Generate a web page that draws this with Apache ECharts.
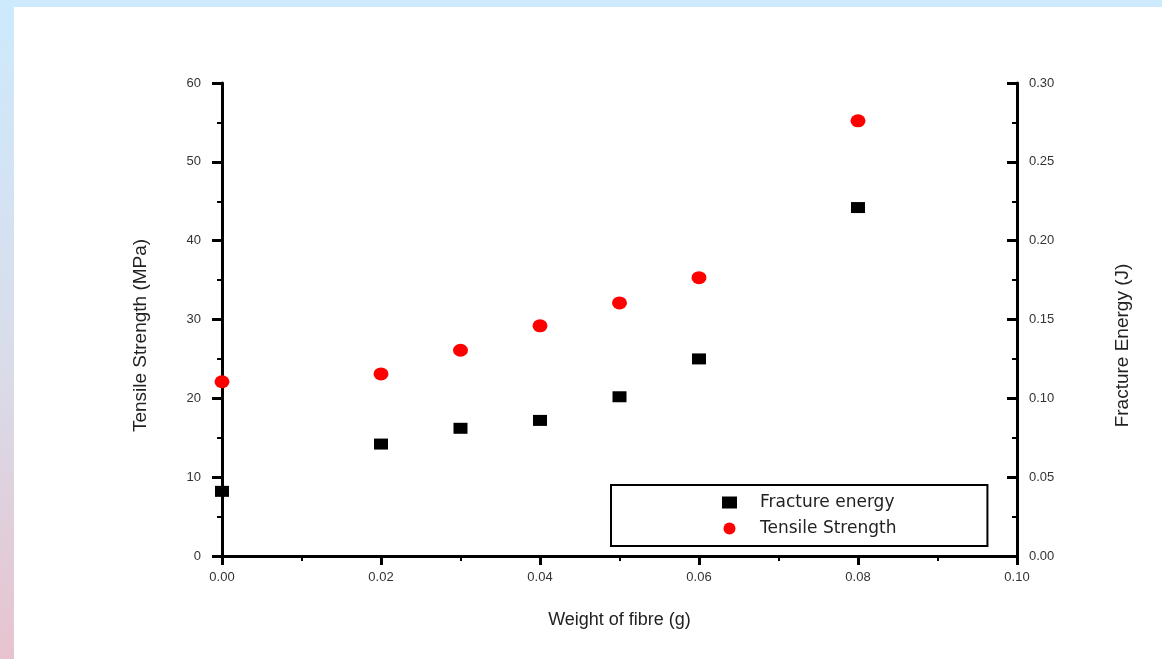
<!DOCTYPE html>
<html>
<head>
<meta charset="utf-8">
<script src="https://cdn.jsdelivr.net/npm/echarts@6/dist/echarts.min.js"></script>
<style>
  html, body { margin: 0; padding: 0; }
  body {
    width: 1162px; height: 659px; overflow: hidden;
    background: linear-gradient(180deg, #cdeafd 0%, #d9dcea 55%, #e7c3cf 100%);
  }
  #frameTop { position: absolute; left: 0; top: 0; width: 1162px; height: 7px; background: #cdeafd; }
  #chart { position: absolute; left: 14px; top: 7px; width: 1148px; height: 652px; background: #fff; }
</style>
</head>
<body>
<div id="frameTop"></div>
<div id="chart"></div>
<script>
// weight of fibre (g)
const weights = [0.00, 0.02, 0.03, 0.04, 0.05, 0.06, 0.08];
// left axis, MPa
const tensileStrength = [22.1, 23.1, 26.1, 29.2, 32.1, 35.3, 55.2];
// right axis, J
const fractureEnergy = [0.041, 0.071, 0.081, 0.086, 0.101, 0.125, 0.221];

const myChart = echarts.init(document.getElementById('chart'));

const axisLine = { show: true, lineStyle: { color: '#000', width: 3 } };
const labelStyle = { color: '#333', fontSize: 13, fontFamily: 'Liberation Sans' };
const nameStyle = { color: '#222', fontSize: 19, fontFamily: 'Liberation Sans' };

const option = {
  animation: false,
  grid: { left: 208, right: 145, top: 76, bottom: 103 },
  legend: {
    orient: 'vertical',
    left: 597,
    top: 478,
    padding: [9, 91, 9, 111],
    itemGap: 9,
    itemWidth: 15,
    itemHeight: 12,
    borderColor: '#000',
    borderWidth: 2,
    textStyle: { color: '#222', fontSize: 17, fontFamily: 'DejaVu Sans', padding: [0, 0, 0, 18] },
    data: ['Fracture energy', 'Tensile Strength']
  },
  xAxis: {
    type: 'value',
    min: 0, max: 0.1, interval: 0.02,
    name: 'Weight of fibre (g)',
    nameLocation: 'middle',
    nameGap: 55,
    nameTextStyle: { color: '#222', fontSize: 18, fontFamily: 'Liberation Sans' },
    axisLine: axisLine,
    axisTick: { inside: false, length: 9, lineStyle: { width: 3, color: '#000' } },
    minorTick: { show: true, splitNumber: 2, length: 5, lineStyle: { width: 2, color: '#000' } },
    axisLabel: Object.assign({ margin: 15, formatter: v => v.toFixed(2) }, labelStyle),
    splitLine: { show: false }
  },
  yAxis: [
    {
      type: 'value',
      min: 0, max: 60, interval: 10,
      name: 'Tensile Strength (MPa)',
      nameLocation: 'middle',
      nameRotate: 90,
      nameGap: 72,
      nameTextStyle: Object.assign({ padding: [0, 32, 0, 0] }, nameStyle),
      axisLine: axisLine,
      axisTick: { inside: false, length: 10, lineStyle: { width: 3, color: '#000' } },
      minorTick: { show: true, splitNumber: 2, length: 5, lineStyle: { width: 2, color: '#000' } },
      axisLabel: Object.assign({ margin: 21 }, labelStyle),
      splitLine: { show: false }
    },
    {
      type: 'value',
      position: 'right',
      min: 0, max: 0.3, interval: 0.05,
      name: 'Fracture Energy (J)',
      nameLocation: 'middle',
      nameRotate: 90,
      nameGap: 96,
      nameTextStyle: Object.assign({ padding: [0, 52, 0, 0] }, nameStyle),
      axisLine: axisLine,
      axisTick: { inside: true, length: 10, lineStyle: { width: 3, color: '#000' } },
      minorTick: { show: true, splitNumber: 2, length: 5, lineStyle: { width: 2, color: '#000' } },
      axisLabel: Object.assign({ margin: 12, formatter: v => v.toFixed(2) }, labelStyle),
      splitLine: { show: false }
    }
  ],
  series: [
    {
      name: 'Fracture energy',
      type: 'scatter',
      yAxisIndex: 1,
      symbol: 'rect',
      symbolSize: [14, 11],
      itemStyle: { color: '#000', opacity: 1 },
      data: weights.map((w, i) => [w, fractureEnergy[i]])
    },
    {
      name: 'Tensile Strength',
      type: 'scatter',
      yAxisIndex: 0,
      symbol: 'circle',
      symbolSize: [15, 13],
      itemStyle: { color: '#ff0000', opacity: 1 },
      data: weights.map((w, i) => [w, tensileStrength[i]])
    }
  ]
};
option && myChart.setOption(option);
</script>
</body>
</html>
